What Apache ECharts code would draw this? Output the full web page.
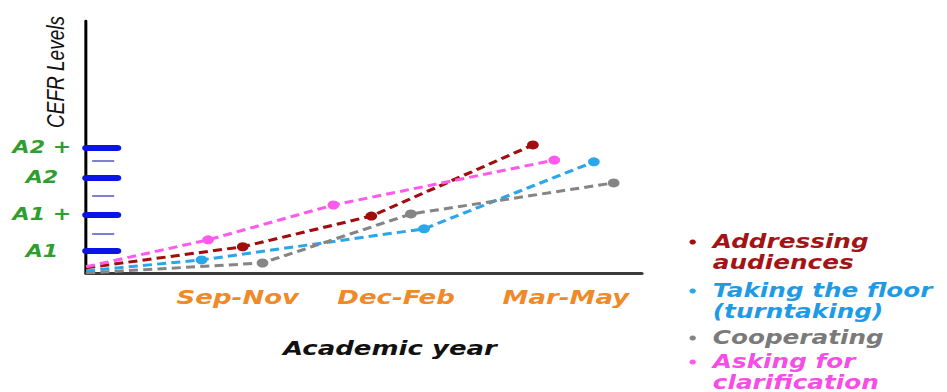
<!DOCTYPE html>
<html>
<head>
<meta charset="utf-8">
<script src="https://cdn.jsdelivr.net/npm/echarts@6/dist/echarts.min.js"></script>
<style>
  html, body { margin: 0; padding: 0; background: #fff; overflow: hidden; }
  /* the source picture is stretched sideways, so the chart is drawn narrow and widened */
  #chart { width: 728px; height: 392px; transform: scaleX(1.3008); transform-origin: 0 0; }
</style>
</head>
<body>
<div id="chart"></div>
<script>
// ─── data ─────────────────────────────────────────────────────────────
const periods   = ['Sep-Nov', 'Dec-Feb', 'Mar-May']
const periodPos = [1, 1.96, 2.99]
const levels    = ['A1', 'A1 +', 'A2', 'A2 +']
const levelPos  = [1, 2.06, 3.12, 4]
const minorPos  = [1.5, 2.59, 3.61]

const seriesNames = ['Addressing audiences', 'Taking the floor (turntaking)', 'Cooperating', 'Asking for clarification']
const legendLines = [['Addressing', 'audiences'], ['Taking the floor', '(turntaking)'], ['Cooperating'], ['Asking for', 'clarification']]

const addressingX  = [0.08, 1.03, 1.81, 2.79]
const addressingY  = [0.51, 1.12, 2.01, 4.07]
const turntakingX  = [0.08, 0.78, 2.13, 3.16]
const turntakingY  = [0.42, 0.74, 1.64, 3.58]
const cooperatingX = [0.08, 1.15, 2.05, 3.28]
const cooperatingY = [0.36, 0.65, 2.07, 2.97]
const clarifyX     = [0.08, 0.82, 1.58, 2.92]
const clarifyY     = [0.54, 1.32, 2.33, 3.63]

const lineColors = ['#a10d0d', '#2aa6ea', '#858585', '#ff5aec']
const textColors = ['#a31515', '#1f9be6', '#7a7a7a', '#f54ee6']
const legendTop  = [210.5, 259.5, 327.5, 330.5]

const FONT = '"DejaVu Sans", sans-serif'

// ─── chart ────────────────────────────────────────────────────────────
const xs = [addressingX, turntakingX, cooperatingX, clarifyX]
const ys = [addressingY, turntakingY, cooperatingY, clarifyY]

const series = seriesNames.map((name, i) => ({
  name, type: 'line',
  data: xs[i].map((x, j) => j === 0 ? { value: [x, ys[i][j]], symbol: 'none' } : [x, ys[i][j]]),
  symbol: 'circle', symbolSize: 9,
  itemStyle: { color: lineColors[i] },
  lineStyle: { color: lineColors[i], width: 3, type: [7, 4] },
  z: 3 + i,
}))

// legend text is centred on the dot, so a blank line above puts the dot on the first line
const legends = seriesNames.map((name, i) => ({
  data: [name],
  orient: 'vertical',
  left: 530, top: legendTop[i],
  padding: 0,
  icon: 'circle', itemWidth: 21, itemHeight: 5,
  selectedMode: false,
  formatter: () => (legendLines[i].length > 1 ? '\n' : '') + legendLines[i].join('\n'),
  textStyle: {
    color: textColors[i], fontFamily: FONT, fontStyle: 'italic', fontWeight: 'bold',
    fontSize: 19, lineHeight: 21,
  },
}))

const chart = echarts.init(document.getElementById('chart'), null, { renderer: 'svg' })
chart.setOption({
  animation: false,
  backgroundColor: '#fff',
  grid: { left: 66.2, right: 234.7, top: 21, bottom: 119, containLabel: false },
  legend: legends,
  xAxis: {
    type: 'value', min: 0.08, max: 3.45,
    name: 'Academic year', nameLocation: 'middle', nameGap: 65,
    nameTextStyle: { color: '#111', fontFamily: FONT, fontStyle: 'italic', fontWeight: 'bold', fontSize: 20, padding: [0, 0, 0, 40] },
    axisLine: { show: true, onZero: false, lineStyle: { color: '#3a3a3a', width: 3 } },
    axisTick: { show: false },
    splitLine: { show: false },
    axisLabel: {
      customValues: periodPos, margin: 14,
      formatter: v => periods[periodPos.indexOf(v)] ?? '',
      color: '#f08a28', fontFamily: FONT, fontStyle: 'italic', fontWeight: 'bold', fontSize: 20,
    },
  },
  yAxis: [
    {
      type: 'value', position: 'left', min: 0.36, max: 7.66,
      axisLine: { show: true, onZero: false, lineStyle: { color: '#000', width: 2.3 } },
      axisTick: { show: true, inside: true, length: 24, customValues: levelPos, lineStyle: { color: '#0a14e6', width: 6, cap: 'round' } },
      splitLine: { show: false },
      axisLabel: {
        customValues: levelPos, margin: 34, align: 'center',
        formatter: v => levels[levelPos.indexOf(v)] ?? '',
        color: '#2f9e2f', fontFamily: FONT, fontStyle: 'italic', fontWeight: 'bold', fontSize: 17,
      },
    },
    {
      type: 'value', position: 'left', min: 0.36, max: 7.66, offset: -4.6,
      axisLine: { show: false },
      axisTick: { show: true, inside: true, length: 17, customValues: minorPos, lineStyle: { color: '#5555cc', width: 1.5 } },
      splitLine: { show: false },
      axisLabel: { show: false },
    },
  ],
  graphic: [{
    type: 'text', x: 43, y: 72, rotation: Math.PI / 2,
    style: {
      text: 'CEFR Levels', fill: '#111', align: 'center', verticalAlign: 'middle',
      font: 'italic 19px "Liberation Sans", Arial, sans-serif',
    },
  }],
  series,
})
</script>
</body>
</html>
